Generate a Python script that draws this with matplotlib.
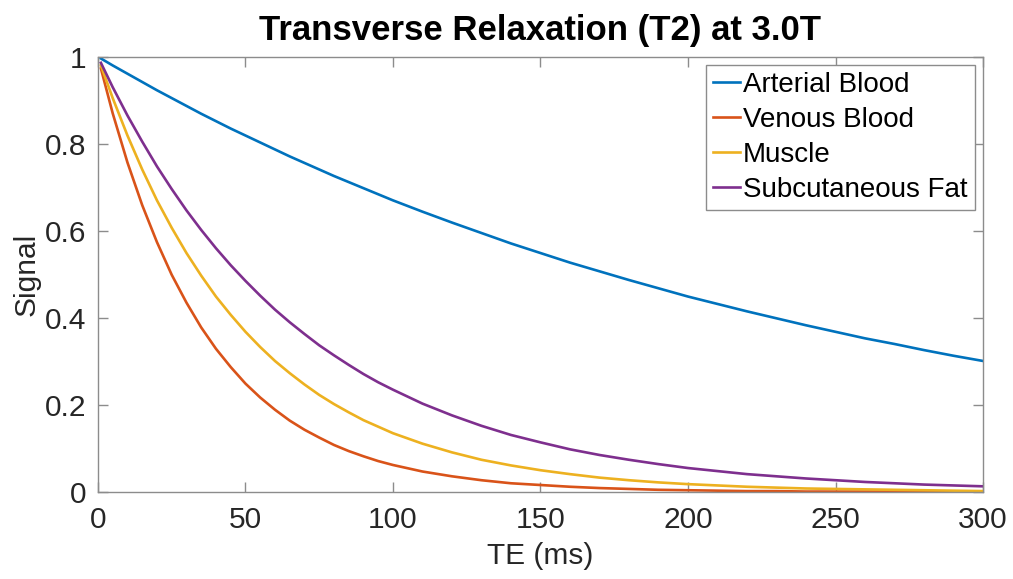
import matplotlib
matplotlib.use('Agg')
import matplotlib.pyplot as plt

plt.rcParams['font.family'] = ['Liberation Sans', 'DejaVu Sans']

# echo time samples (ms) and normalised signal for each tissue
te = [1, 5, 10, 15, 20, 25, 30, 35, 40, 45, 50, 55, 60, 65, 70, 75, 80, 85,
      90, 95, 100, 110, 120, 130, 140, 150, 160, 170, 180, 190, 200, 210,
      220, 230, 240, 250, 260, 270, 280, 290, 300]

arterial = [0.996, 0.980, 0.961, 0.942, 0.923, 0.905, 0.887, 0.869, 0.852,
            0.835, 0.819, 0.803, 0.787, 0.771, 0.756, 0.741, 0.726, 0.712,
            0.698, 0.684, 0.670, 0.644, 0.619, 0.595, 0.571, 0.549, 0.527,
            0.507, 0.487, 0.468, 0.449, 0.432, 0.415, 0.399, 0.383, 0.368,
            0.353, 0.340, 0.326, 0.313, 0.301]

venous = [0.973, 0.870, 0.757, 0.659, 0.574, 0.499, 0.435, 0.378, 0.329,
          0.287, 0.249, 0.217, 0.189, 0.164, 0.143, 0.125, 0.108, 0.094,
          0.082, 0.071, 0.062, 0.047, 0.036, 0.027, 0.020, 0.016, 0.012,
          0.009, 0.007, 0.005, 0.004, 0.003, 0.002, 0.002, 0.001, 0.001,
          0.001, 0.001, 0.000, 0.000, 0.000]

muscle = [0.980, 0.905, 0.819, 0.741, 0.670, 0.607, 0.549, 0.497, 0.449,
          0.407, 0.368, 0.333, 0.301, 0.273, 0.247, 0.223, 0.202, 0.183,
          0.165, 0.150, 0.135, 0.111, 0.091, 0.074, 0.061, 0.050, 0.041,
          0.033, 0.027, 0.022, 0.018, 0.015, 0.012, 0.010, 0.008, 0.007,
          0.006, 0.005, 0.004, 0.003, 0.002]

fat = [0.986, 0.930, 0.865, 0.805, 0.748, 0.696, 0.647, 0.602, 0.560,
       0.521, 0.485, 0.451, 0.419, 0.390, 0.363, 0.337, 0.314, 0.292,
       0.271, 0.252, 0.235, 0.203, 0.176, 0.152, 0.131, 0.114, 0.098,
       0.085, 0.074, 0.064, 0.055, 0.048, 0.041, 0.036, 0.031, 0.027,
       0.023, 0.020, 0.017, 0.015, 0.013]

labels = ['Arterial Blood', 'Venous Blood', 'Muscle', 'Subcutaneous Fat']
colors = ['#0072BD', '#D95319', '#EDB120', '#7E2F8E']

fig = plt.figure(figsize=(10.13, 5.79), dpi=100)
ax = fig.add_axes([0.0967, 0.1503, 0.8737, 0.7517])

for y, lab, c in zip([arterial, venous, muscle, fat], labels, colors):
    ax.plot(te, y, color=c, lw=1.9, label=lab)

ax.set_xlim(0, 300)
ax.set_ylim(0, 1)
ax.set_xticks([0, 50, 100, 150, 200, 250, 300])
ax.set_yticks([0, 0.2, 0.4, 0.6, 0.8, 1])
ax.set_yticklabels(['0', '0.2', '0.4', '0.6', '0.8', '1'])

for s in ax.spines.values():
    s.set_color('#8c8c8c')
    s.set_linewidth(1.0)
ax.tick_params(direction='in', length=7, width=1, color='#8c8c8c',
               top=True, right=True, labelsize=21.5, labelcolor='#262626')
ax.tick_params(axis='x', pad=10)
ax.tick_params(axis='y', pad=8.5)

ax.set_xlabel('TE (ms)', fontsize=21.5, color='#262626', labelpad=6)
ax.set_ylabel('Signal', fontsize=21.5, color='#262626', labelpad=3)
ax.set_title('Transverse Relaxation (T2) at 3.0T', fontsize=25,
             fontweight='bold', pad=12)

leg = ax.legend(loc='upper right', fontsize=20, fancybox=False,
                handlelength=1.0, handletextpad=0.1, labelspacing=0.32,
                borderaxespad=0.3, borderpad=0.25, framealpha=1)
leg.get_frame().set_edgecolor('#8c8c8c')
leg.get_frame().set_linewidth(1.0)

fig.savefig('out.png', dpi=100)
